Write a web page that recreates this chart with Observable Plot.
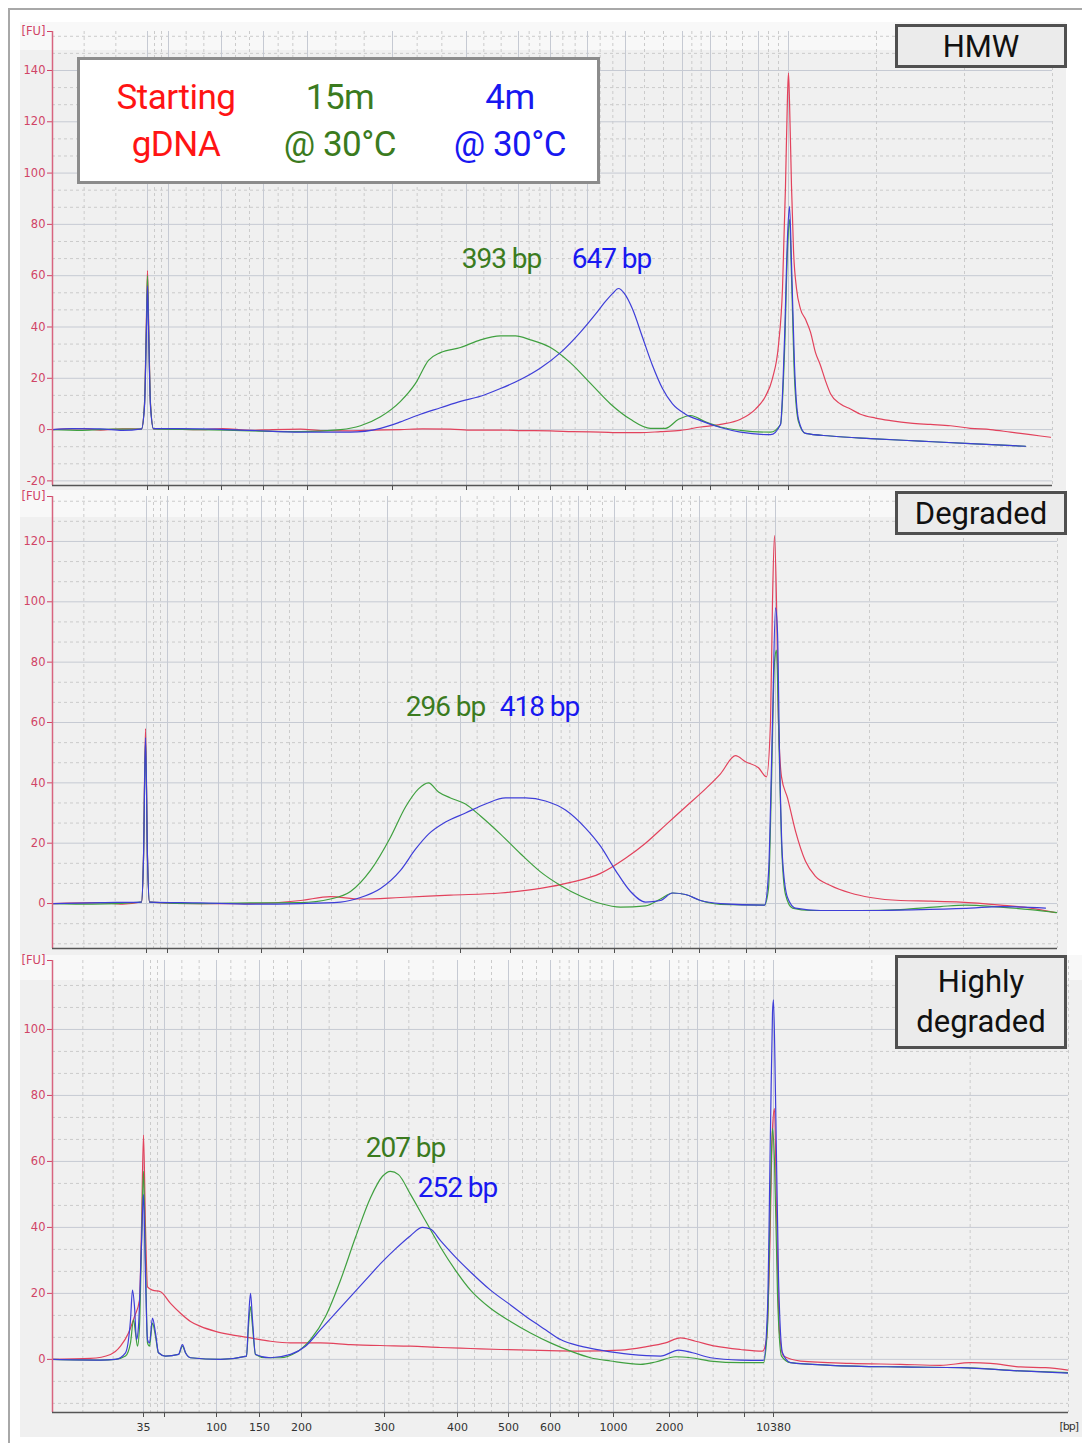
<!DOCTYPE html>
<html><head><meta charset="utf-8">
<script src="https://cdn.jsdelivr.net/npm/d3@7"></script>
<script src="https://cdn.jsdelivr.net/npm/@observablehq/plot@0.6"></script>
<style>
body{margin:0;background:#fff;}
#wrap{position:relative;width:1082px;height:1443px;overflow:hidden;font-family:Roboto,sans-serif;background:#fff;}
.abs{position:absolute;}
.bg{position:absolute;background:#f0f0f0;}
.bgl{position:absolute;background:#f8f8f8;}
.tbox{position:absolute;background:#ebebeb;border:3px solid #505050;box-sizing:border-box;color:#111;font-family:Roboto,sans-serif;font-size:31px;display:flex;align-items:center;justify-content:center;text-align:center;}
.leg{position:absolute;width:200px;text-align:center;font-family:Roboto,sans-serif;font-size:35px;line-height:47px;letter-spacing:-0.5px;}
svg g[aria-label="text"] text{letter-spacing:-1px;}
</style></head><body><div id="wrap"></div><script>
// ---------------- data ----------------
const ladderBp = [35,50,100,150,200,300,400,500,600,700,1000,2000,3000,7000,10380];
const labeledBp = [35,100,150,200,300,400,500,600,1000,2000,10380];
// migration time (s) of ladder peaks in each run
const ladderTimeHMW = [49.5,51.6,56.9,61.1,65.5,74.0,81.4,86.6,89.8,93.5,97.3,103.0,105.8,110.6,113.6];
const ladderTimeDeg = [49.4,51.5,56.6,60.9,65.1,73.5,80.8,85.8,90.0,92.6,96.2,102.0,104.7,109.4,112.3];
const ladderTimeHigh = [49.1,51.2,56.4,60.7,64.9,73.2,80.5,85.6,89.8,92.6,96.1,101.7,104.5,109.2,112.1];
const runTimeHMW = [40, 140.0];
const runTimeDeg = [40, 140.5];
const runTimeHigh = [40, 141.6];
// FU extents and tick labels
const fuRangeHMW = [-21.8, 155.2];
const fuRangeDeg = [-14.9, 134.9];
const fuRangeHigh = [-16.1, 120.9];
const fuTicksHMW = [-20,0,20,40,60,80,100,120,140];
const fuTicksDeg = [0,20,40,60,80,100,120];
const fuTicksHigh = [0,20,40,60,80,100];
const seriesNames = ["Starting gDNA","15m @ 30°C","4m @ 30°C"];

// traces: [migration time s, FU]
const hmwStart = [[40.0,0],[43.0,0.4],[44.8,-0.2],[47.0,0.3],[48.9,0.2],[49.2,10],[49.4,45],[49.5,62],[49.6,45],[49.8,10],[50.1,0.3],[52,0.2],[54.8,0],[57,0.4],[59.8,-0.3],[62,0],[64.8,0.2],[67,-0.4],[69.8,-0.5],[72,-0.2],[74.8,0],[77,0.3],[79.8,0.2],[82,-0.2],[84.8,-0.2],[87,-0.4],[89.8,-0.5],[92,-0.8],[94.8,-1],[97,-1.2],[98.8,-1.2],[100.8,-0.8],[102.8,-0.3],[104.8,1],[106.8,2],[108.8,4],[110.3,8],[111.3,13],[112.0,20],[112.6,33],[113.0,55],[113.3,95],[113.5,130],[113.6,139],[113.7,128],[113.9,95],[114.1,70],[114.4,55],[114.8,47],[115.3,43],[115.8,38],[116.3,30],[116.8,25],[117.3,19],[117.8,14],[118.8,10],[119.8,8],[120.8,6],[122.3,4.5],[123.8,3.5],[125.8,2.5],[127.8,2],[129.8,1.5],[131.8,0.5],[133.8,0],[135.8,-1],[137.8,-2],[139.8,-3]];
const hmw15m = [[40,0],[43,-0.3],[46,0.2],[48.9,0.2],[49.2,10],[49.4,42],[49.5,60],[49.6,42],[49.8,10],[50.1,0.3],[54.8,0],[59.8,-0.5],[64.8,-0.8],[68.8,0],[70.8,1.5],[72.8,5],[74.8,11],[76.3,18],[77.6,27],[78.8,30],[80.8,32],[82.8,35],[84.8,36.5],[86.3,36.5],[87.8,35],[89.8,32],[91.8,26],[93.8,18],[95.8,10],[97.8,4],[99.8,0.5],[101.3,0.5],[102.6,4],[103.8,5.5],[105.3,3],[106.8,1],[108.8,-0.3],[111.8,-1],[112.8,2],[113.2,30],[113.5,70],[113.7,82],[113.9,60],[114.2,20],[114.6,3],[115.3,-1.5],[117.8,-2.5],[121.8,-3.5],[126.8,-4.5],[131.8,-5.5],[137.3,-6.5]];
const hmw4m = [[40,0],[42,0.4],[44.8,0.3],[47,-0.3],[48.9,0.3],[49.2,9],[49.4,40],[49.5,56],[49.6,40],[49.8,9],[50.1,0.4],[54.8,0.3],[59.8,-0.3],[64.8,-1],[69.8,-1],[72.8,0.5],[74.8,3],[76.8,6],[78.8,8.5],[80.8,11],[82.8,13],[84.8,16],[86.8,19.5],[88.8,24],[90.8,30],[92.8,38],[94.3,45],[95.3,50],[96.0,53],[96.6,55],[97.2,53],[98.0,47],[99.0,36],[100.0,25],[101.0,16],[102.0,10],[103.3,6],[104.8,3.5],[106.8,0.8],[108.8,-1],[111.8,-2],[112.8,2],[113.2,35],[113.5,75],[113.7,87],[113.9,65],[114.2,25],[114.6,4],[115.3,-1.5],[117.8,-2.5],[121.8,-3.5],[126.8,-4.5],[131.8,-5.5],[137.3,-6.5]];

const degStart = [[40,0],[44.8,0.3],[47,-0.2],[48.9,0.5],[49.1,15],[49.3,58],[49.5,15],[49.7,0.5],[54.8,0],[59.8,0],[64.8,1],[67.8,2.3],[70.8,1.5],[74.8,2],[79.8,2.8],[84.8,3.5],[88.8,5],[91.8,7],[94.8,10],[97.3,15],[99.3,20],[101.3,26],[103.3,32],[105.3,38],[106.8,43],[108.3,49],[109.3,47],[110.6,45],[111.4,42],[111.8,60],[112.0,100],[112.2,122],[112.4,100],[112.6,60],[112.9,42],[113.5,35],[114.3,24],[115.3,14],[116.3,9],[117.8,6],[119.8,3.5],[121.8,2],[124.8,1],[127.8,0.8],[130.8,0.5],[134.8,-0.5],[137.8,-1.5],[140.3,-3]];
const deg15m = [[40,0],[44,-0.2],[48.9,0.5],[49.1,15],[49.3,54],[49.5,15],[49.7,0.5],[54.8,0],[59.8,0.2],[64.8,0.3],[67.8,1.5],[69.8,4],[71.8,11],[73.8,22],[75.3,32],[76.6,38],[77.6,40],[78.6,37],[79.8,35],[81.3,33],[82.8,29],[84.8,23],[86.8,16.5],[88.8,10.5],[90.8,6],[92.8,2.5],[94.8,0],[96.8,-1.2],[99.3,-0.8],[100.8,1.5],[102.0,3.5],[103.3,3],[104.8,1],[106.8,-0.3],[111.2,-0.5],[111.6,5],[111.9,40],[112.2,80],[112.4,84],[112.6,60],[112.9,20],[113.3,3],[114.0,-1.5],[115.8,-2.3],[120.8,-2.3],[124.8,-2],[128.8,-1],[131.3,-0.5],[134.8,-1.2],[137.8,-2],[140.5,-3]];
const deg4m = [[40,0],[45,0.3],[48.9,0.5],[49.1,15],[49.3,55],[49.5,15],[49.7,0.5],[54.8,0.2],[59.8,-0.2],[64.8,0],[68.8,0.5],[70.8,2],[72.8,5],[74.8,11],[76.3,18],[77.6,23],[79.3,27],[81.3,30],[83.3,33],[85.3,35],[87.3,35],[89.3,34],[91.3,31],[93.3,25],[94.8,19],[96.3,11],[97.8,4],[99.3,0.5],[100.8,1],[102.0,3.5],[103.3,3],[104.8,1],[106.8,0],[111.2,-0.5],[111.6,10],[112.0,60],[112.3,98],[112.5,90],[112.7,50],[113.0,15],[113.5,2],[114.3,-1.5],[116.8,-2.3],[121.8,-2.3],[126.8,-2],[131.8,-1.5],[134.8,-1],[139.3,-1.5]];

const highStart = [[40,0],[43.8,0.3],[45.8,1.5],[46.8,4],[47.6,8],[48.2,13],[48.7,18],[48.9,40],[49.1,68],[49.3,40],[49.5,22],[50.0,21],[50.8,20.5],[51.8,17],[52.8,14],[53.8,11.5],[54.8,10],[56.3,8.5],[57.8,7.5],[59.8,6.5],[61.8,5.5],[63.8,5],[66.8,5],[69.8,4.5],[72.8,4.2],[75.8,4],[78.8,3.6],[81.8,3.3],[84.8,3],[88.8,2.7],[92.8,2.5],[96.8,2.8],[99.3,3.8],[101.3,5],[102.8,6.5],[104.3,5.5],[106.3,4],[108.8,3],[111.0,2.5],[111.4,6],[111.7,30],[112.0,70],[112.2,76],[112.4,45],[112.7,8],[113.1,1],[114.8,-0.5],[119.8,-1.2],[124.8,-1.5],[128.8,-1.8],[131.8,-1],[133.8,-1.2],[136.8,-2.3],[139.3,-2.5],[141.6,-3.3]];
const high15m = [[40,0],[44.8,-0.2],[46.3,0],[47.3,1],[47.8,5],[48.1,12],[48.3,8],[48.5,4],[48.7,10],[48.9,35],[49.1,57],[49.3,30],[49.5,5],[49.7,4],[50.0,11],[50.3,7],[50.6,2],[51.3,1],[52.6,1.5],[53.0,4],[53.3,2],[53.8,0.5],[56.8,0],[59.4,1],[59.6,10],[59.8,16],[60.0,10],[60.3,1.5],[61.3,0.5],[62.8,0.5],[64.3,2],[65.8,6],[67.3,13],[68.8,24],[70.3,37],[71.8,49],[73.0,55.5],[73.8,57],[74.6,56],[75.8,50],[77.3,42],[78.8,34],[80.3,27],[81.8,21],[83.8,15.5],[85.8,11.5],[87.8,8],[89.8,5],[91.8,2.5],[93.8,0.5],[95.8,-0.5],[98.8,-1.5],[100.3,-0.8],[102.3,0.8],[103.8,0.5],[105.8,-0.5],[108.8,-1],[111.1,-1],[111.5,10],[111.8,50],[112.0,70],[112.2,60],[112.5,20],[112.9,1],[113.8,-1],[117.8,-1.8],[124.8,-2.3],[130.8,-2.5],[136.8,-3.5],[141.6,-4]];
const high4m = [[40,0],[44.8,-0.2],[46.3,0],[47.3,2],[47.8,12],[48.0,21],[48.2,16],[48.4,6],[48.6,10],[48.9,35],[49.1,50],[49.3,25],[49.5,6],[49.7,5],[50.0,12.5],[50.3,8],[50.6,2],[51.3,1],[52.6,1.5],[53.0,4.5],[53.3,2],[53.8,0.5],[56.8,0],[59.4,1],[59.6,12],[59.8,20],[60.0,12],[60.3,1.5],[61.8,0.5],[63.8,1.5],[65.3,4],[66.8,9],[68.3,14],[69.8,19],[71.3,24],[72.8,29],[74.3,33.5],[75.8,37.5],[77.0,40],[77.8,39.5],[78.8,36],[80.3,31],[81.8,26.5],[83.8,21],[85.8,16.5],[87.8,12],[89.3,9],[90.8,6],[92.8,4],[94.8,2.8],[97.8,1.5],[100.8,1],[102.6,2.8],[104.0,2],[105.8,0.5],[108.8,-0.2],[111.1,-0.3],[111.5,15],[111.8,70],[112.0,105],[112.1,109],[112.3,80],[112.6,25],[113.0,2],[113.8,-1],[117.8,-1.8],[124.8,-2.3],[130.8,-2.5],[136.8,-3.5],[141.6,-4.2]];

// size annotations (series index 1 = 15m, 2 = 4m)
const hmwSizes = [{label:"393 bp", s:1, t:84.9, fu:66.3},{label:"647 bp", s:2, t:95.9, fu:66.3}];
const degSizes = [{label:"296 bp", s:1, t:79.3, fu:65.2},{label:"418 bp", s:2, t:88.7, fu:65.2}];
const highSizes = [{label:"207 bp", s:1, t:75.3, fu:64.2},{label:"252 bp", s:2, t:80.5, fu:51.8}];

// ---------------- drawing ----------------
const traceColors = ["#e2425c","#3fa03f","#3e3ed8"];
const textColors = ["#ff1414","#3b7b1e","#1818f0"];
const gridMajor = "#c6cad3", gridMinor = "#cbcbcb";

function thirds(points){const out=[];for(let i=0;i<points.length-1;i++){const a=points[i],b=points[i+1];out.push(a+(b-a)/3,a+2*(b-a)/3);}return out;}
function minorY(range, ticks){const step=20/3,out=[];const base=ticks[0];for(let k=-10;k<40;k++){const v=base+k*step;if(v>range[0]&&v<range[1]&&Math.abs(((v-base)/20)-Math.round((v-base)/20))>1e-6)out.push(v);}return out;}

function panel({top,height,mt,mb,mr,run,ladder,fuRange,fuTicks,traces,sizes,labels}){
  const xMinor=[...thirds([run[0],...ladder,run[1]]),run[1]];
  const yMinor=minorY(fuRange,fuTicks);
  const labMap=new Map(ladder.map((t,i)=>[t,labels&&labeledBp.includes(ladderBp[i])?String(ladderBp[i]):""]));
  const marks=[
    Plot.ruleY(yMinor,{stroke:gridMinor,strokeDasharray:"3,3"}),
    Plot.ruleX(xMinor,{stroke:gridMinor,strokeDasharray:"3,3"}),
    Plot.ruleY(fuTicks.filter(v=>v>fuRange[0]),{stroke:gridMajor}),
    Plot.ruleX(ladder,{stroke:gridMajor}),
    ...traces.map((tr,i)=>Plot.line(tr,{x:d=>d[0],y:d=>d[1],stroke:traceColors[i],strokeWidth:1.2,curve:"monotone-x",clip:true})),
    Plot.text(sizes,{x:"t",y:"fu",text:"label",fill:d=>textColors[d.s],fontSize:28,fontFamily:"Roboto"}),
    Plot.axisY({ticks:[...fuTicks,fuRange[1]],tickFormat:d=>d===fuRange[1]?"[FU]":String(d),tickSize:5,tickPadding:2,color:"#d04466",fontSize:11.5,fontFamily:"DejaVu Sans",label:null}),
    Plot.axisX({ticks:ladder,tickFormat:d=>labMap.get(d)||"",tickSize:5,tickPadding:6,color:"#505050",fill:"#333",fontSize:11,fontFamily:"DejaVu Sans",label:null}),
    Plot.ruleX([run[0]],{stroke:"#d8647f",strokeWidth:1.5}),
    Plot.ruleY([fuRange[0]],{stroke:"#555",strokeWidth:1.5})
  ];
  if(labels) marks.push(Plot.text(["[bp]"],{frameAnchor:"bottom-right",dy:17,dx:-9,textAnchor:"start",fill:"#333",fontSize:11,fontFamily:"DejaVu Sans"}));
  const svg=Plot.plot({width:1082,height,marginTop:mt,marginBottom:mb,marginLeft:52,marginRight:mr,
    style:{background:"transparent",overflow:"visible"},
    x:{domain:run},y:{domain:fuRange},marks});
  svg.style.position="absolute";svg.style.left="0px";svg.style.top=top+"px";
  return svg;
}

const wrap=document.getElementById("wrap");
function div(cls,css,html){const d=document.createElement("div");d.className=cls;Object.assign(d.style,css);if(html!==undefined)d.innerHTML=html;wrap.appendChild(d);return d;}

// outer frame + panel backgrounds
div("abs",{left:"8px",top:"8px",width:"1100px",height:"1500px",borderTop:"2px solid #a8a8a8",borderLeft:"2px solid #a8a8a8"});
div("bgl",{left:"20px",top:"22px",width:"1046px",height:"28px"});
div("bg",{left:"20px",top:"50px",width:"1046px",height:"440px"});
div("bgl",{left:"20px",top:"490px",width:"1047px",height:"27px"});
div("bg",{left:"20px",top:"517px",width:"1047px",height:"438px"});
div("bgl",{left:"20px",top:"955px",width:"1062px",height:"25px"});
div("bg",{left:"20px",top:"980px",width:"1062px",height:"457px"});

wrap.appendChild(panel({top:0,height:492,mt:31,mb:7,mr:30,run:runTimeHMW,ladder:ladderTimeHMW,fuRange:fuRangeHMW,fuTicks:fuTicksHMW,traces:[hmwStart,hmw15m,hmw4m],sizes:hmwSizes,labels:false}));
wrap.appendChild(panel({top:490,height:465,mt:6,mb:7,mr:25,run:runTimeDeg,ladder:ladderTimeDeg,fuRange:fuRangeDeg,fuTicks:fuTicksDeg,traces:[degStart,deg15m,deg4m],sizes:degSizes,labels:false}));
wrap.appendChild(panel({top:955,height:488,mt:5,mb:31,mr:14,run:runTimeHigh,ladder:ladderTimeHigh,fuRange:fuRangeHigh,fuTicks:fuTicksHigh,traces:[highStart,high15m,high4m],sizes:highSizes,labels:true}));

// legend box
div("abs",{left:"77px",top:"57px",width:"523px",height:"127px",background:"#fff",border:"3px solid #8c8c8c",boxSizing:"border-box"});
const legendLines=seriesNames.map(n=>{const m=n.match(/^(\S+)\s(.*)$/);return [m[1],m[2]];});
[76,240,410].forEach((x,i)=>div("leg",{left:x+"px",top:"74px",color:textColors[i]},legendLines[i][0]+"<br>"+legendLines[i][1]));

// panel titles
div("tbox",{left:"895px",top:"24px",width:"172px",height:"44px"},"HMW");
div("tbox",{left:"895px",top:"491px",width:"172px",height:"44px"},"Degraded");
div("tbox",{left:"895px",top:"955px",width:"172px",height:"94px",lineHeight:"40px"},"Highly<br>degraded");
</script></body></html>
